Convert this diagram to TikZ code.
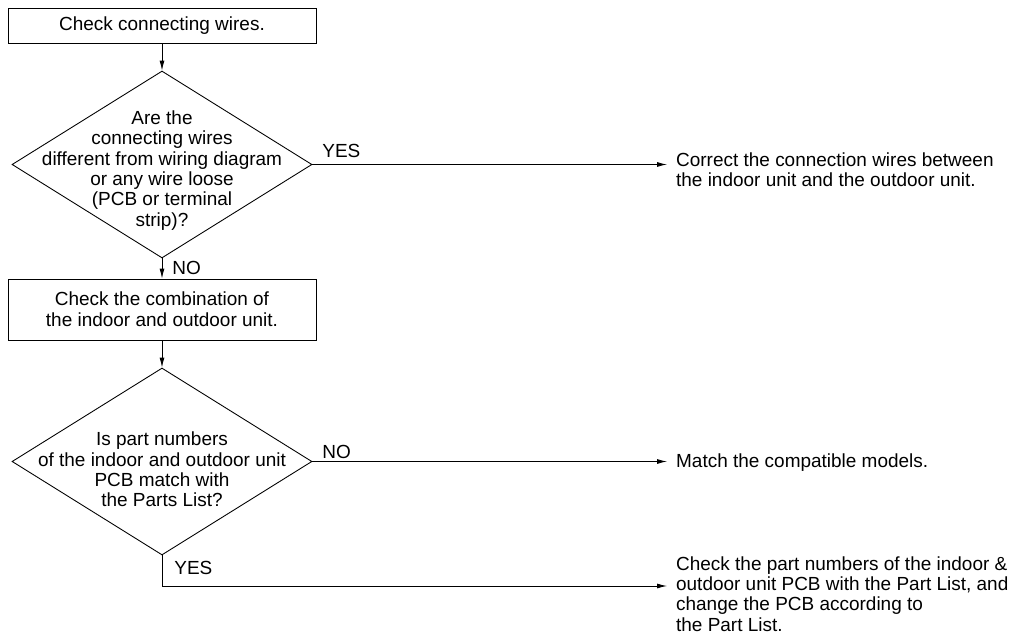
\documentclass[tikz,border=0pt]{standalone}
\usepackage{fontspec}
\setmainfont{Liberation Sans}
\usepackage{tikz}
\usetikzlibrary{arrows.meta,shapes.geometric}
\tikzset{
  stepbox/.style={
    draw,
    line width=0.5pt,
    minimum width=6.16cm,
    align=center,
    font=\fontsize{10.8}{11.8}\selectfont,
    inner sep=2pt
  },
  decision/.style={
    draw,
    diamond,
    line width=0.5pt,
    minimum width=6cm,
    minimum height=3.74cm,
    inner sep=0pt
  },
  qtext/.style={
    align=center,
    font=\fontsize{10.8}{11.6}\selectfont,
    inner sep=0pt
  },
  actiontext/.style={
    anchor=west,
    align=left,
    font=\fontsize{10.8}{11.6}\selectfont,
    inner xsep=5pt,
    inner ysep=0pt
  },
  answer/.style={
    anchor=west,
    font=\fontsize{10.8}{11.8}\selectfont,
    inner sep=0pt
  },
  flowline/.style={
    line width=0.5pt,
    -{Latex[length=2mm,width=1mm]}
  }
}

\begin{document}
\begin{tikzpicture}[x=0.02cm,y=-0.02cm]
  \useasboundingbox (0,0) rectangle (1020,634);
  \node[stepbox, minimum height=0.7cm] (wires) at (162,26) {Check connecting wires.};
  \node[decision, label={[qtext, yshift=-0.12cm]center:{Are the\\connecting wires\\different from wiring diagram\\or any wire loose\\(PCB or terminal\\strip)?}}] (q1) at (162,164.5) {};
  \node[stepbox, minimum height=1.22cm] (combo) at (162,309.5) {Check the combination of\\the indoor and outdoor unit.};
  \node[decision, label={[qtext, yshift=-0.16cm]center:{Is part numbers\\of the indoor and outdoor unit\\PCB match with\\the Parts List?}}] (q2) at (162,461.5) {};
  \node[actiontext] (fixwires) at (667,170) {Correct the connection wires between\\the indoor unit and the outdoor unit.};
  \node[actiontext] (models) at (667,463) {Match the compatible models.};
  \node[actiontext] (changepcb) at (667,594) {Check the part numbers of the indoor \&\\outdoor unit PCB with the Part List, and\\change the PCB according to\\the Part List.};
  \coordinate (yesturn) at (162,586);
  \node[answer] (yes1) at (322,151) {YES};
  \node[answer] (no1) at (172,268) {NO};
  \node[answer] (no2) at (322,452) {NO};
  \node[answer] (yes2) at (174,568) {YES};
  \draw[flowline] (wires) -- (q1);
  \draw[flowline] (q1) -- (combo);
  \draw[flowline] (combo) -- (q2);
  \draw[flowline] (q1.east) -- (q1.east -| fixwires.west);
  \draw[flowline] (q2.east) -- (q2.east -| models.west);
  \draw[flowline] (q2.south) -- (yesturn) -- (yesturn -| changepcb.west);
\end{tikzpicture}
\end{document}
